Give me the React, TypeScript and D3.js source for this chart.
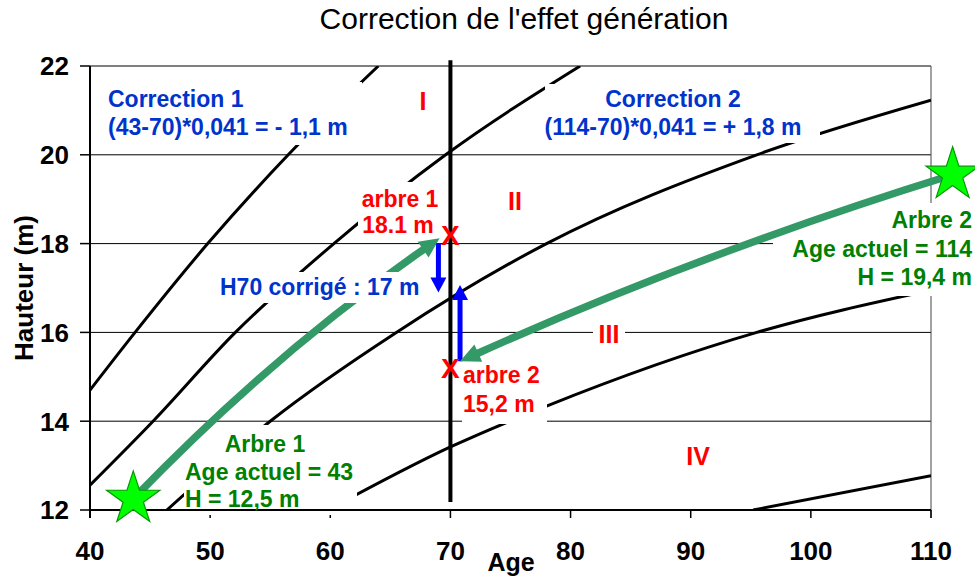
import React, { useEffect, useRef } from "react";
import * as d3 from "d3";

// axis ticks
const xTicks = [40, 50, 60, 70, 80, 90, 100, 110];
const yTicks = [12, 14, 16, 18, 20, 22];

// height/age curves: [age, height]
const curveA = [[40, 14.7], [43.75, 16], [49.8, 18], [56.5, 20], [64, 22]];
const curveB = [[40, 12.56], [45.25, 14], [52.1, 16], [60.3, 18], [69.6, 20], [80.8, 22]];
const curveC = [[46.4, 12], [55, 14], [65.5, 16], [78, 18], [95.5, 20], [110, 21.23]];
const curveD = [[59.8, 12], [70, 13.42], [78, 14.34], [95.5, 16], [110, 16.95]];
const curveE = [[95.2, 12], [110, 12.77]];
const curves = [curveA, curveB, curveC, curveD, curveE];

// the two trees: where they are now and their height at 70 years
const treeAges = [43.6, 111.8];
const treeHeights = [12.25, 19.55];
const arrowEndAges = [69.1, 70.8];
const arrowEndHeights = [18.12, 15.35];
const h70Values = [18.2, 15.2];
const correctedH70 = 17;
const refAge = 70;

function App() {
  const svgRef = useRef<SVGSVGElement>(null);
  const width = 975;
  const height = 579;

  useEffect(() => {
    const svg = d3.select(svgRef.current);
    svg.selectAll("*").remove();

    const x = d3.scaleLinear().domain([40, 110]).range([90, 931]);
    const y = d3.scaleLinear().domain([12, 22]).range([510, 66]);
    const font = "'Liberation Sans', Arial, sans-serif";

    svg.append("rect").attr("width", width).attr("height", height).attr("fill", "#fff");

    // title
    svg.append("text")
      .attr("x", 524).attr("y", 29)
      .attr("text-anchor", "middle")
      .attr("font-family", font).attr("font-size", 30)
      .text("Correction de l'effet génération");

    svg.append("defs").append("clipPath").attr("id", "plot")
      .append("rect").attr("x", 90).attr("y", 66).attr("width", 841).attr("height", 444);

    // gridlines
    svg.append("g").selectAll("line").data(yTicks.filter((d) => d > 12)).join("line")
      .attr("x1", 90).attr("x2", 931)
      .attr("y1", (d) => y(d)).attr("y2", (d) => y(d))
      .attr("stroke", "#000").attr("stroke-width", 1);

    // right border
    svg.append("line")
      .attr("x1", 931).attr("x2", 931).attr("y1", 66).attr("y2", 518)
      .attr("stroke", "#444").attr("stroke-width", 1);

    // ticks
    svg.append("g").selectAll("line").data(yTicks).join("line")
      .attr("x1", 80).attr("x2", 90)
      .attr("y1", (d) => y(d)).attr("y2", (d) => y(d))
      .attr("stroke", "#000").attr("stroke-width", 1.5);
    svg.append("g").selectAll("line").data(xTicks).join("line")
      .attr("x1", (d) => x(d)).attr("x2", (d) => x(d))
      .attr("y1", 510).attr("y2", 518)
      .attr("stroke", "#000").attr("stroke-width", 1.5);

    // tick labels
    svg.append("g").selectAll("text").data(yTicks).join("text")
      .attr("x", 69).attr("y", (d) => y(d))
      .attr("dy", "0.36em")
      .attr("text-anchor", "end")
      .attr("font-family", font).attr("font-size", 26).attr("font-weight", "bold")
      .text((d) => d);
    svg.append("g").selectAll("text").data(xTicks).join("text")
      .attr("x", (d) => x(d)).attr("y", 560)
      .attr("text-anchor", "middle")
      .attr("font-family", font).attr("font-size", 26).attr("font-weight", "bold")
      .text((d) => d);

    // axis titles
    svg.append("text")
      .attr("x", 511).attr("y", 571)
      .attr("text-anchor", "middle")
      .attr("font-family", font).attr("font-size", 25).attr("font-weight", "bold")
      .text("Age");
    svg.append("text")
      .attr("transform", "translate(33,288) rotate(-90)")
      .attr("text-anchor", "middle")
      .attr("font-family", font).attr("font-size", 26).attr("font-weight", "bold")
      .text("Hauteur (m)");

    // curves
    const line = d3.line<number[]>()
      .x((d) => x(d[0]))
      .y((d) => y(d[1]))
      .curve(d3.curveMonotoneX);
    svg.append("g").attr("clip-path", "url(#plot)")
      .selectAll("path").data(curves).join("path")
      .attr("d", (d) => line(d))
      .attr("fill", "none").attr("stroke", "#000").attr("stroke-width", 3);

    // vertical line at 70 years
    svg.append("line")
      .attr("x1", x(refAge)).attr("x2", x(refAge))
      .attr("y1", y(22.13)).attr("y2", y(12.18))
      .attr("stroke", "#000").attr("stroke-width", 4);

    const box = (x0: number, y0: number, x1: number, y1: number) =>
      svg.append("rect")
        .attr("x", x0).attr("y", y0).attr("width", x1 - x0).attr("height", y1 - y0)
        .attr("fill", "#fff");

    const label = (
      tx: number, ty: number, txt: string, color: string,
      anchor = "start", size = 23
    ) =>
      svg.append("text")
        .attr("x", tx).attr("y", ty)
        .attr("text-anchor", anchor)
        .attr("font-family", font).attr("font-size", size).attr("font-weight", "bold")
        .attr("fill", color)
        .text(txt);

    const arrow = (
      p0: number[], p2: number[], bend: number, color: string,
      w: number, headLen: number, headW: number
    ) => {
      const dx = p2[0] - p0[0];
      const dy = p2[1] - p0[1];
      const len = Math.hypot(dx, dy);
      const c = [(p0[0] + p2[0]) / 2 + (dy / len) * bend, (p0[1] + p2[1]) / 2 - (dx / len) * bend];
      const tl = Math.hypot(p2[0] - c[0], p2[1] - c[1]);
      const ux = (p2[0] - c[0]) / tl;
      const uy = (p2[1] - c[1]) / tl;
      const base = [p2[0] - ux * headLen, p2[1] - uy * headLen];
      const p = d3.path();
      p.moveTo(p0[0], p0[1]);
      p.quadraticCurveTo(c[0], c[1], base[0] + ux, base[1] + uy);
      svg.append("path").attr("d", p.toString())
        .attr("fill", "none").attr("stroke", color).attr("stroke-width", w);
      const h = d3.path();
      h.moveTo(p2[0], p2[1]);
      h.lineTo(base[0] - uy * headW / 2, base[1] + ux * headW / 2);
      h.lineTo(base[0] + uy * headW / 2, base[1] - ux * headW / 2);
      h.closePath();
      svg.append("path").attr("d", h.toString()).attr("fill", color);
    };

    // white label backgrounds
    box(100, 82, 362, 145);
    box(545, 84, 820, 143);
    box(358, 182, 442, 240);
    box(462, 372, 547, 424);
    box(184, 425, 357, 515);
    box(593, 322, 625, 346);

    // green arrow for tree 1, blue corrections
    const green = "#339966";
    arrow([x(treeAges[0]), y(treeHeights[0])], [x(arrowEndAges[0]), y(arrowEndHeights[0])], 20, green, 7.5, 20, 19);
    arrow([x(69.0), y(18.0)], [x(69.0), y(correctedH70 - 0.1)], 0, "#0000ff", 5, 15, 16);
    arrow([x(70.8), y(15.35)], [x(70.8), y(correctedH70 + 0.07)], 0, "#0000ff", 5, 15, 16);

    box(215, 272, 428, 303);
    label(220, 295, "H70 corrigé : 17 m", "#0033cc");

    box(773, 203, 975, 296);
    arrow([x(treeAges[1]), y(treeHeights[1])], [x(arrowEndAges[1]), y(arrowEndHeights[1])], -16, green, 7.5, 20, 19);

    // main axes
    svg.append("line").attr("x1", 90).attr("x2", 90).attr("y1", 66).attr("y2", 518)
      .attr("stroke", "#000").attr("stroke-width", 2);
    svg.append("line").attr("x1", 89).attr("x2", 931).attr("y1", 510).attr("y2", 510)
      .attr("stroke", "#000").attr("stroke-width", 2);

    // red markers at 70 years
    svg.append("g").selectAll("text").data(h70Values).join("text")
      .attr("x", x(refAge)).attr("y", (d) => y(d))
      .attr("dy", "0.36em")
      .attr("text-anchor", "middle")
      .attr("font-family", font).attr("font-size", 28).attr("font-weight", "bold")
      .attr("fill", "#ff0000")
      .text("X");

    const blue = "#0033cc";
    const red = "#ff0000";
    const dgreen = "#008000";
    label(108, 107, "Correction 1", blue);
    label(108, 135, "(43-70)*0,041 = - 1,1 m", blue);
    label(673, 107, "Correction 2", blue, "middle");
    label(673, 135, "(114-70)*0,041 = + 1,8 m", blue, "middle");

    label(423, 110, "I", red, "middle", 25);
    label(515, 210, "II", red, "middle", 25);
    label(609, 343, "III", red, "middle", 25);
    label(698, 465, "IV", red, "middle", 25);

    label(400, 207, "arbre 1", red, "middle");
    label(398, 233, "18.1 m", red, "middle");
    label(463, 383, "arbre 2", red);
    label(463, 412, "15,2 m", red);

    label(265, 452, "Arbre 1", dgreen, "middle");
    label(185, 480, "Age actuel = 43", dgreen);
    label(185, 507, "H = 12,5 m", dgreen);
    label(972, 228, "Arbre 2", dgreen, "end");
    label(972, 257, "Age actuel = 114", dgreen, "end");
    label(972, 285, "H = 19,4 m", dgreen, "end");

    // stars
    const star = d3.symbol().type(d3.symbolStar).size(880);
    svg.append("g").selectAll("path").data(treeAges).join("path")
      .attr("transform", (d, i) => `translate(${x(d)},${y(treeHeights[i])})`)
      .attr("d", star)
      .attr("fill", "#00ff00").attr("stroke", "#009900").attr("stroke-width", 1.2);
  }, []);

  return (
    <svg
      ref={svgRef}
      width={width}
      height={height}
      style={{ position: "absolute", left: 0, top: 0, display: "block" }}
    ></svg>
  );
}

export default App;
